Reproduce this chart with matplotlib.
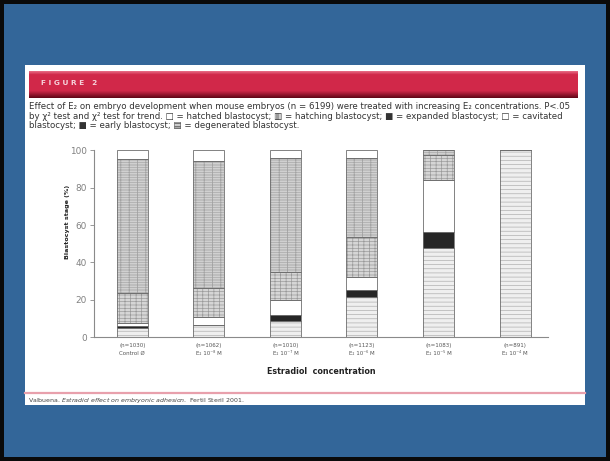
import numpy as np
import matplotlib
matplotlib.use("Agg")
import matplotlib.pyplot as plt
from matplotlib.patches import Rectangle

# ---- data (percent of blastocysts in each stage) ----
groups_n = ["(n=1030)", "(n=1062)", "(n=1010)", "(n=1123)", "(n=1083)", "(n=891)"]
groups_dose = ["Control Ø", "E₂ 10⁻⁸ M", "E₂ 10⁻⁷ M", "E₂ 10⁻⁶ M", "E₂ 10⁻⁵ M", "E₂ 10⁻⁴ M"]
degenerated = [4.8, 6.2, 8.5, 21.5, 47.6, 100.0]
early = [1.1, 0.0, 3.5, 3.5, 8.5, 0.0]
cavitated = [1.8, 4.5, 8.0, 7.0, 28.0, 0.0]
expanded = [15.9, 15.8, 15.0, 21.5, 13.5, 0.0]
hatching = [71.9, 67.8, 61.0, 42.5, 2.4, 0.0]
hatched = [4.5, 5.7, 4.0, 4.0, 0.0, 0.0]
y_ticks = [0, 20, 40, 60, 80, 100]

W, H = 610, 461
plt.rcParams["hatch.linewidth"] = 0.5


def fx(px):
    return px / W


def fy(py):
    return 1 - py / H


fig = plt.figure(figsize=(W / 100, H / 100), dpi=100, facecolor="#0a0a0a")

# slide background and white panel (behind everything)
fig.add_artist(Rectangle((fx(4), fy(457)), fx(602), (457 - 4) / H, zorder=-20,
                         transform=fig.transFigure, facecolor="#336699", edgecolor="none"))
fig.add_artist(Rectangle((fx(25), fy(405)), fx(560), (405 - 65) / H, zorder=-10,
                         transform=fig.transFigure, facecolor="white", edgecolor="none"))

# red title banner with vertical shading
bax = fig.add_axes([fx(29), fy(98), fx(549), (98 - 71) / H])
rows = 27
top = np.array([0.90, 0.40, 0.50])
mid = np.array([0.82, 0.16, 0.29])
bot = np.array([0.40, 0.03, 0.10])
grad = np.zeros((rows, 2, 3))
for i in range(rows):
    t = i / (rows - 1)
    if t < 0.12:
        c = top + (mid - top) * (t / 0.12)
    elif t < 0.74:
        c = mid
    else:
        c = mid + (bot - mid) * ((t - 0.74) / 0.26)
    grad[i, :, :] = c
bax.imshow(grad, aspect="auto", interpolation="bilinear")
bax.set_axis_off()
fig.text(fx(41), fy(83), "F I G U R E   2", color="#f6d2da", fontsize=5.3,
         fontweight="bold", va="center", ha="left", zorder=5)

# caption
cap_lines = [
    "Effect of E₂ on embryo development when mouse embryos (n = 6199) were treated with increasing E₂ concentrations. P<.05",
    "by χ² test and χ² test for trend. □ = hatched blastocyst; ▥ = hatching blastocyst; ■ = expanded blastocyst; □ = cavitated",
    "blastocyst; ■ = early blastocyst; ▤ = degenerated blastocyst.",
]
for i, line in enumerate(cap_lines):
    fig.text(fx(29), fy(106.5 + 9.6 * i), line, fontsize=6.2, color="#333333",
             va="center", ha="left")

# chart
ax = fig.add_axes([fx(94), fy(337), fx(454), (337 - 150.5) / H])
x = np.arange(len(groups_n))
width = 0.405

segments = [
    (degenerated, "#efefef", "----", "#b0b0b0"),
    (early, "#262626", None, None),
    (cavitated, "white", None, None),
    (expanded, "#d6d6d6", "-----|||", "#9a9a9a"),
    (hatching, "#dadada", "----------||", "#a4a4a4"),
    (hatched, "white", None, None),
]
bottom = np.zeros(len(x))
for vals, face, hatch, hcol in segments:
    vals = np.asarray(vals)
    if hatch:
        ax.bar(x, vals, width, bottom=bottom, color=face, hatch=hatch,
               edgecolor=hcol, linewidth=0, zorder=2)
    else:
        ax.bar(x, vals, width, bottom=bottom, color=face, linewidth=0, zorder=2)
    ax.bar(x, vals, width, bottom=bottom, facecolor="none",
           edgecolor="#6e6e6e", linewidth=0.6, zorder=3)
    bottom += vals

ax.set_xlim(-0.5, 5.43)
ax.set_ylim(0, 100)
ax.set_yticks(y_ticks)
ax.set_yticklabels([str(v) for v in y_ticks], fontsize=6.4, color="#808080")
ax.tick_params(axis="y", direction="out", length=3, width=0.6, color="#888888", pad=2)
ax.set_xticks(x)
ax.set_xticklabels([f"{a}\n{b}" for a, b in zip(groups_n, groups_dose)],
                   fontsize=4.0, color="#555555", linespacing=1.75)
ax.tick_params(axis="x", length=0, pad=4)
for s in ["top", "right"]:
    ax.spines[s].set_visible(False)
for s in ["left", "bottom"]:
    ax.spines[s].set_color("#8a8a8a")
    ax.spines[s].set_linewidth(0.8)
ax.set_facecolor("none")

fig.text(fx(321), fy(371), "Estradiol  concentration", fontsize=5.8, fontweight="bold",
         color="#222222", ha="center", va="center")
fig.text(fx(67), fy(222), "Blastocyst stage (%)", fontsize=4.6, fontweight="bold",
         color="#222222", ha="center", va="center", rotation=90)

# footer rule and reference
fig.add_artist(plt.Line2D([fx(25), fx(585)], [fy(393), fy(393)], transform=fig.transFigure,
                          color="#e8a0ac", linewidth=1.6))
fig.text(fx(28), fy(400.5), "Valbuena. $Estradiol$ $effect$ $on$ $embryonic$ $adhesion.$ Fertil Steril 2001.",
         fontsize=4.5, color="#444444", ha="left", va="center")

fig.savefig("out.png", dpi=100, facecolor=fig.get_facecolor())
